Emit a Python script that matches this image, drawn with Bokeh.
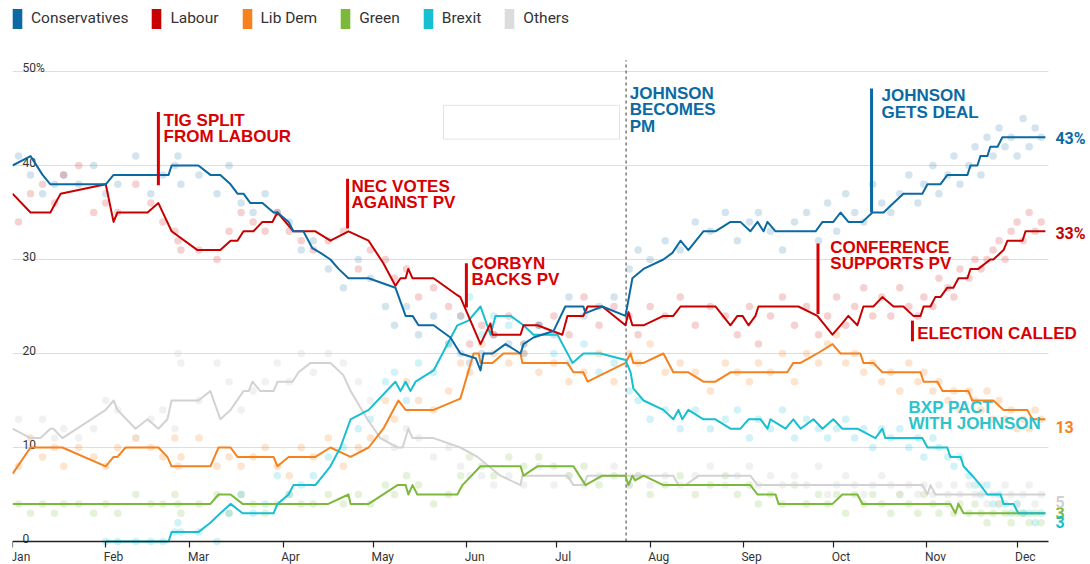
import numpy as np
from bokeh.plotting import figure
from bokeh.models import (Legend, LegendItem, LinearAxis, FixedTicker, BoxAnnotation, Range1d)
from bokeh.core.properties import value
from bokeh.embed import file_html
from bokeh.resources import INLINE

# ---------------- data (x = days since 1 Jan 2019) ----------------
parties = ["Conservatives", "Labour", "Lib Dem", "Green", "Brexit", "Others"]
party_colors = ["#0b6aa3", "#c70000", "#f5821f", "#7cb83a", "#18bfd0", "#d2d2d2"]
legend_colors = ["#0b6aa3", "#c70000", "#f5821f", "#7cb83a", "#18bfd0", "#dcdcdc"]

con_line = [(0, 40), (6, 41), (10, 39), (12.6, 38), (31, 38), (33.6, 39), (51.9, 39), (52.9, 40),
            (61.8, 40), (65.8, 39), (69.1, 39), (72.5, 38), (74.8, 37), (76.8, 37), (79.1, 36),
            (83.1, 36), (86.8, 35), (88.1, 35), (91.8, 34), (93.4, 33), (96.7, 33), (99.7, 31.2),
            (102.4, 30.7), (105.7, 30), (108.4, 29), (111.7, 28), (118.4, 28), (127.3, 27),
            (130.7, 24), (133, 24), (135, 23), (140, 23), (145.6, 21.7), (148.9, 20), (154, 19.5),
            (155.6, 18.2), (156.6, 20), (159.6, 20), (163.9, 21), (168.9, 20), (169.9, 21),
            (173.2, 21.7), (179.9, 22.4), (183.8, 25), (189.8, 25), (190.5, 24.3), (196.1, 25),
            (203.8, 24), (206.1, 28), (209.8, 29), (216.4, 30), (219.4, 30.7), (222.1, 32),
            (224.7, 31), (229.7, 33), (233.7, 33), (238.7, 34), (242, 34), (245.3, 33), (247.7, 34),
            (249.7, 33), (251, 34), (253.7, 33), (267, 33), (269.3, 34), (272.9, 34), (275.3, 35),
            (277.9, 34), (282.6, 34), (285.9, 35), (289.6, 35), (292.9, 36), (296.2, 37),
            (302.5, 37), (304.2, 38), (308.5, 38), (310.8, 39), (317.5, 39), (318.5, 40),
            (320.8, 40), (321.8, 41), (324.1, 41), (325.1, 42), (327.5, 42), (329.1, 43), (343.4, 43)]

lab_line = [(0, 37), (6, 35), (12.6, 35), (14.3, 36), (16, 37), (31, 38), (33.6, 34), (34.9, 35),
            (44.9, 35), (48.5, 36), (52.9, 33), (61.5, 31), (69.1, 31), (72.5, 32), (74.8, 32),
            (76.8, 33), (80.1, 33), (83.1, 34), (86.4, 34), (88.1, 35), (93.4, 33), (100.7, 33),
            (105.7, 32), (111.7, 33), (118.4, 32), (123.3, 29.6), (127.3, 27.2), (129, 28),
            (130.7, 28), (131.6, 29), (133, 28), (140, 28), (147.9, 26.2), (148.9, 26),
            (155.6, 21), (158.9, 23.2), (159.6, 22), (168.9, 22), (169.9, 23), (174.5, 23),
            (182.8, 22), (184.5, 24), (189.8, 24), (191.2, 25), (196.1, 25), (203.8, 23),
            (204.8, 24.4), (206.1, 23), (209.8, 23), (216.4, 24), (219.7, 24), (222.1, 25),
            (233.7, 25), (238.7, 23), (241, 24), (242.7, 24), (244.7, 23), (247, 24), (248, 25),
            (261.3, 25), (267.6, 24), (272.6, 22), (275.3, 23), (277.9, 24), (280.9, 23),
            (282.9, 25), (286.2, 25), (289.2, 26), (292.9, 25), (296.2, 25), (299.5, 24),
            (301.9, 24), (302.9, 25), (305.2, 25), (306.8, 26), (308.5, 26), (310.8, 27),
            (312.8, 27), (314.5, 28), (317.5, 28), (318.5, 29), (321.1, 29), (325.1, 30),
            (326.1, 30), (329.5, 31), (330.8, 32), (335.8, 32), (336.8, 33), (343.4, 33)]

ld_line = [(0, 7.2), (6, 10), (16.6, 10), (31, 8), (33.6, 9), (34.9, 9), (37.6, 10), (48.5, 10),
           (51.5, 9), (52.9, 8), (65.8, 8), (68.5, 10), (72.5, 10), (74.8, 9), (86.8, 9), (88.1, 8),
           (91.8, 9), (100.7, 9), (105.7, 10), (112.4, 9), (118.4, 10), (123.3, 12), (128.3, 15),
           (130.7, 14), (140, 14), (148.9, 15.2), (153.3, 20), (155, 20), (155.6, 19), (159.6, 19),
           (163.2, 20), (168.9, 20), (169.5, 19), (184.5, 19), (186.5, 18), (189.8, 18),
           (191.2, 17), (203.8, 19), (205.5, 20), (206.4, 19), (209.8, 19), (216.4, 20),
           (219.7, 18), (224.7, 18), (229.7, 17), (233.7, 17), (238.7, 18), (257.6, 18),
           (259.6, 19), (262, 19), (267.6, 20), (272.6, 21), (275.3, 20), (281.9, 20), (282.9, 19),
           (286.2, 19), (289.2, 18), (301.9, 18), (302.9, 17), (307.5, 17), (309.2, 16),
           (317.8, 16), (319.1, 15), (326.1, 15), (329.5, 14), (337.4, 14), (339.1, 13), (343.4, 13)]

grn_line = [(0, 4), (65.8, 4), (68.5, 5), (72.5, 5), (76.5, 4), (105, 4), (111.7, 5), (112.4, 4),
            (118.4, 4), (128, 6), (130.7, 6), (131.6, 5), (133, 6), (134.6, 5), (147.9, 5),
            (149.6, 6), (155.6, 8), (168.9, 8), (169.9, 7), (174.5, 8), (186.5, 8), (190.5, 6),
            (196.1, 7), (203.8, 7), (204.8, 6), (206.1, 7), (207, 6.5), (209.8, 7), (216.4, 6),
            (245.3, 6), (247.7, 5), (253.7, 5), (254.7, 4), (272.6, 4), (275.9, 5), (280.9, 5),
            (282.6, 4), (311.8, 4), (313.5, 3), (314.5, 4), (316.2, 3), (343.4, 3)]

brx_line = [(31, 0), (51.9, 0), (52.9, 1), (61.8, 1), (65.8, 2), (69.1, 3), (72.5, 4), (76.5, 3),
            (86.8, 3), (88.1, 4), (91.8, 5), (93.4, 6), (100.7, 6), (105.7, 8), (109, 10),
            (112.4, 13), (118.4, 14), (127.3, 17), (129, 16), (130.7, 17), (132.3, 16), (134, 17),
            (140, 18.2), (147.9, 23), (151.6, 23.5), (155.6, 25), (158.9, 22), (160.6, 24),
            (165.6, 24), (169.9, 23), (173.2, 22), (181.2, 22), (186.2, 19), (189.8, 20),
            (195.5, 20), (203.8, 19.3), (205.5, 18), (206.4, 16.3), (209.8, 15), (216.4, 14),
            (219.7, 13), (221.4, 14), (222.7, 13), (224.7, 14), (229.7, 13), (233.7, 13),
            (238.7, 12), (242, 12), (244.7, 13), (248.7, 13), (251, 12), (252, 13), (257, 12),
            (259.6, 13), (262, 12), (266.3, 13), (269.3, 12), (272.9, 13), (275.9, 12), (280.9, 12),
            (286.9, 11), (289.2, 12), (290.2, 11), (302.5, 11), (304.2, 10), (310.8, 10),
            (311.8, 9), (315.2, 9), (316.2, 8), (319.1, 7), (321.8, 6), (324.1, 5), (328.5, 5),
            (329.5, 4), (332.8, 4), (334.4, 3), (343.4, 3)]

oth_line = [(0, 12), (6, 11), (9.3, 11), (12.6, 12), (13.6, 12), (16.6, 11), (31, 14), (33.6, 15),
            (34.9, 14), (40.9, 12), (44.9, 13), (48.5, 12), (51.5, 13), (52.9, 15), (61.8, 15),
            (65.8, 16), (69.1, 13), (72.5, 14), (76.8, 16), (78.5, 16), (79.8, 17), (82.4, 16),
            (86.8, 16), (88.1, 17), (93.1, 17), (95.1, 18), (99.1, 19), (105.7, 19), (110, 17.7),
            (112.4, 16), (118, 13), (122.3, 11), (128, 10), (129.7, 10), (131.6, 12), (133, 11),
            (140, 11), (148.9, 10), (154.6, 9), (162.2, 7), (168.9, 6), (169.5, 7), (184.5, 7),
            (186.5, 6), (189.8, 6), (191.2, 7), (219.7, 7), (221.4, 6), (223.7, 6), (228.1, 7),
            (245.3, 7), (247.7, 6), (302.5, 6), (304.2, 5), (305.2, 6), (306.8, 5), (343.4, 5)]

# individual polls: (day, Con, Lab, LD, Green, Brexit, Others)
polls = [
    (2, 41, 34, 8, 4, None, 13), (6, 39, 37, 11, 3, None, 10), (10, 37, 38, 9, 4, None, 13),
    (14, 38, 36, 10, 3, None, 11), (17, 39, 39, 8, 4, None, 12), (22, 38, 40, 10, 4, None, 11),
    (27, 40, 35, 9, 3, None, 12), (31, 37, 36, 8, 4, 0, 15), (35, 38, 35, 10, 3, 0, 14),
    (41, 41, 38, 11, 5, 0, 11), (46, 37, 36, 10, 4, 0, 13), (50, 39, 34, 9, 4, 0, 14),
    (54, 40, 33, 11, 5, 1, 12), (55, 41, 32, 8, 4, 2, 20), (56, 38, 31, 9, 3, 1, 19),
    (62, 39, 31, 11, 4, 1, 15), (68, 37, 30, 8, 5, 0, 19), (72, 40, 33, 9, 3, 3, 17),
    (76, 36, 35, 8, 5, 5, 14), (80, 35, 34, 9, 4, 3, 16), (84, 37, 33, 10, 3, 4, 17),
    (88, 35, 35, 8, 4, 7, 19), (92, 34, 33, 7, 5, 5, 17), (96, 31, 32, 10, 4, 6, 20),
    (100, 32, 31, 9, 4, 7, 18), (105, 29, 32, 11, 5, 9, 20), (110, 27, 33, 8, 4, 10, 19),
    (115, 30, 29, 10, 5, 12, 17), (119, 28, 31, 11, 4, 13, 15), (124, 25, 30, 15, 6, 17, 11),
    (127, 23, 28, 13, 5, 18, 10), (131, 25, 29, 17, 7, 15, 12), (135, 22, 26, 15, 6, 19, 11),
    (140, 24, 27, 14, 4, 18, 9), (145, 21, 25, 16, 5, 21, 10), (149, 20, 24, 19, 7, 24, 8),
    (152, 19, 21, 18, 9, 26, 7), (156, 20, 23, 21, 8, 22, 7), (160, 22, 22, 20, 7, 24, 6),
    (165, 21, 24, 19, 9, 23, 7), (170, 20, 21, 20, 8, 21, 6), (175, 23, 23, 18, 9, 23, 8),
    (180, 22, 24, 19, 8, 20, 6), (185, 26, 22, 17, 7, 19, 7), (190, 24, 26, 18, 8, 21, 6),
    (195, 25, 23, 20, 6, 18, 7), (200, 26, 25, 17, 7, 19, 8), (205, 29, 24, 20, 6, 16, 6),
    (208, 31, 22, 19, 7, 15, 7), (212, 30, 25, 21, 5, 13, 6), (217, 32, 24, 18, 6, 14, 7),
    (222, 31, 26, 19, 7, 12, 6), (227, 34, 23, 18, 5, 14, 7), (232, 33, 25, 16, 6, 12, 8),
    (237, 35, 24, 19, 7, 13, 6), (241, 32, 22, 18, 5, 14, 7), (245, 34, 25, 17, 6, 11, 8),
    (248, 35, 21, 19, 4, 13, 6), (252, 33, 24, 18, 5, 12, 7), (256, 31, 26, 20, 4, 14, 6),
    (260, 34, 23, 17, 6, 11, 7), (264, 35, 25, 20, 4, 13, 6), (268, 32, 22, 19, 5, 12, 8),
    (271, 36, 24, 21, 4, 11, 5), (274, 33, 26, 22, 5, 12, 6), (277, 37, 23, 19, 3, 13, 7),
    (280, 35, 25, 20, 5, 11, 6), (283, 34, 27, 18, 4, 12, 5), (286, 38, 24, 19, 5, 10, 6),
    (289, 36, 26, 17, 4, 12, 7), (292, 35, 24, 18, 3, 11, 6), (295, 37, 27, 16, 5, 12, 5),
    (298, 39, 25, 19, 4, 10, 6), (301, 36, 24, 17, 3, 11, 5), (303, 38, 26, 18, 5, 9, 6),
    (306, 40, 25, 16, 4, 11, 5), (308, 37, 28, 17, 3, 10, 6), (311, 39, 27, 15, 4, 9, 5),
    (313, 41, 26, 16, 3, 8, 6), (315, 38, 29, 14, 4, 9, 5), (318, 40, 28, 16, 3, 7, 6),
    (320, 42, 30, 15, 4, 6, 5), (322, 39, 29, 14, 3, 5, 6), (324, 43, 30, 16, 2, 6, 4),
    (326, 41, 31, 13, 3, 4, 5), (328, 44, 32, 15, 4, 5, 4), (330, 42, 30, 13, 3, 4, 6),
    (332, 43, 33, 14, 2, 3, 5), (334, 41, 34, 12, 3, 4, 4), (336, 45, 32, 13, 3, 3, 5),
    (338, 42, 35, 12, 2, 3, 6), (340, 44, 33, 14, 3, 2, 4), (342, 43, 34, 13, 2, 3, 5),
]

month_names = ["Jan", "Feb", "Mar", "Apr", "May", "Jun", "Jul", "Aug", "Sep", "Oct", "Nov", "Dec"]
month_days = [0, 31, 59, 90, 120, 151, 181, 212, 243, 273, 304, 334]
y_ticks = [0, 10, 20, 30, 40, 50]
y_tick_labels = ["0", "10", "20", "30", "40", "50%"]
x_end = 344.4          # 11 Dec
johnson_pm_day = 204   # 24 Jul

# event annotations: text, stem day, stem top, stem bottom, text day, first-line value, colour key
events = [
    ("TIG SPLIT\nFROM LABOUR", 48.5, 45.7, 37.9, 50.2, 44.8, "red"),
    ("NEC VOTES\nAGAINST PV", 111.4, 38.6, 33.3, 112.7, 37.8, "red"),
    ("CORBYN\nBACKS PV", 150.9, 29.6, 24.9, 152.6, 29.6, "red"),
    ("CONFERENCE\nSUPPORTS PV", 267.8, 31.7, 24.2, 271.9, 31.3, "red"),
    ("ELECTION CALLED", 299.2, 23.5, 21.3, 300.8, 22.1, "red"),
    ("JOHNSON\nGETS DEAL", 285.6, 48.2, 35.0, 288.9, 47.4, "blue"),
    ("JOHNSON\nBECOMES\nPM", None, None, None, 205.2, 47.7, "blue"),
    ("BXP PACT\nWITH JOHNSON", None, None, None, 297.9, 14.3, "cyan"),
]
event_colors = {"red": "#d80000", "blue": "#0b6aa3", "cyan": "#2cc4cc"}

# ---------------- figure ----------------
W, H = 1090, 564
p = figure(width=W, height=H, output_backend="svg", toolbar_location=None,
           x_range=Range1d(0, 358.4), y_range=Range1d(-2.447, 57.553),
           x_axis_location=None, y_axis_location=None,
           min_border_left=12, min_border_right=0, min_border_top=0, min_border_bottom=0)
p.outline_line_color = None
p.background_fill_color = "white"
p.xgrid.visible = False
p.ygrid.visible = False

# grid lines
grid_vals = y_ticks[1:]
p.segment(x0=[0] * len(grid_vals), x1=[x_end] * len(grid_vals), y0=grid_vals, y1=grid_vals,
          line_color="#dedede", line_width=1)

# poll dots
poll_days = [r[0] for r in polls]
dot_alpha = [0.18, 0.18, 0.22, 0.2, 0.2, 0.3]
for i, (name, col) in enumerate(zip(parties, party_colors)):
    vals = np.array([r[i + 1] for r in polls], dtype=float)
    p.scatter(x=poll_days, y=vals, size=7.5, fill_color=col, fill_alpha=dot_alpha[i],
              line_color=None)

# x axis (ticks) at y = 0
xaxis = LinearAxis(fixed_location=0, ticker=FixedTicker(ticks=month_days), bounds=(0, x_end),
                   axis_line_color="#222", axis_line_width=1.3,
                   major_tick_line_color="#222", major_tick_line_width=1.2,
                   major_tick_out=6, major_tick_in=0, minor_tick_line_color=None,
                   major_label_overrides={d: "" for d in month_days})
p.add_layout(xaxis, "below")

p.text(x=month_days, y=[0] * 12, text=month_names, text_font=value("Roboto"),
       text_font_size="12px", text_color="#333", text_align="left",
       text_baseline="alphabetic", x_offset=-2, y_offset=16)

# y labels inside plot
p.text(x=[0] * len(y_ticks), y=y_ticks, text=y_tick_labels, text_font=value("Roboto"),
       text_font_size="12px", text_color="#333", text_align="left",
       text_baseline="alphabetic", x_offset=10, y_offset=-3)

# dashed line for Johnson becoming PM
p.segment(x0=[johnson_pm_day], x1=[johnson_pm_day], y0=[0], y1=[51.2],
          line_color="#7a7a7a", line_width=1.5, line_dash="3 3")

# empty box
p.add_layout(BoxAnnotation(left=143.3, right=201.8, bottom=42.8, top=46.4, fill_color=None,
                           line_color="#e4e4e4", line_alpha=1, line_width=1))

# lines
all_lines = [con_line, lab_line, ld_line, grn_line, brx_line, oth_line]
draw_order = [5, 3, 2, 4, 1, 0]
for i in draw_order:
    xs = [d for d, v in all_lines[i]]
    ys = [v for d, v in all_lines[i]]
    p.line(xs, ys, line_color=party_colors[i], line_width=2, line_join="round")

# end labels
end_offsets = [1, 2, 8, 0, 9, 8]
end_colors = ["#0b6aa3", "#c70000", "#f5821f", "#7cb83a", "#18bfd0", "#cfcfcf"]
for i in range(6):
    d, v = all_lines[i][-1]
    txt = f"{v:g}%" if i < 2 else f"{v:g}"
    p.text(x=[d], y=[v], text=[txt], text_font=value("Roboto"), text_font_style="bold",
           text_font_size="16px", text_color=end_colors[i], text_align="left",
           text_baseline="middle", x_offset=10, y_offset=end_offsets[i])

# event annotations
for (label, sday, stop, sbot, tday, ty, ckey) in events:
    col = event_colors[ckey]
    if sday is not None:
        p.segment(x0=[sday], x1=[sday], y0=[stop], y1=[sbot], line_color=col, line_width=3)
    lines = label.split("\n")
    p.text(x=[tday] * len(lines), y=[ty] * len(lines), text=lines,
           y_offset=[k * 16.5 for k in range(len(lines))],
           text_font=value("Liberation Sans"), text_font_style="bold",
           text_font_size="17px", text_color=col, text_align="left",
           text_baseline="middle")

# legend (swatches are zero-height bars so that only the legend shows them)
items = []
for name, col in zip(parties, legend_colors):
    r = p.vbar(x=[0], bottom=[0], top=[0], width=0, fill_color=col, line_color=None)
    items.append(LegendItem(label=name, renderers=[r]))
legend = Legend(items=items, location=(-1, H - 5.5 - 25), orientation="horizontal",
                glyph_width=12, glyph_height=25, label_height=25, label_standoff=8,
                spacing=22, padding=0, margin=0, background_fill_alpha=0,
                border_line_color=None, label_text_font="Roboto",
                label_text_font_size="15.5px", label_text_color="#333")
p.add_layout(legend)

open("out.html", "w").write(file_html(p, INLINE))
